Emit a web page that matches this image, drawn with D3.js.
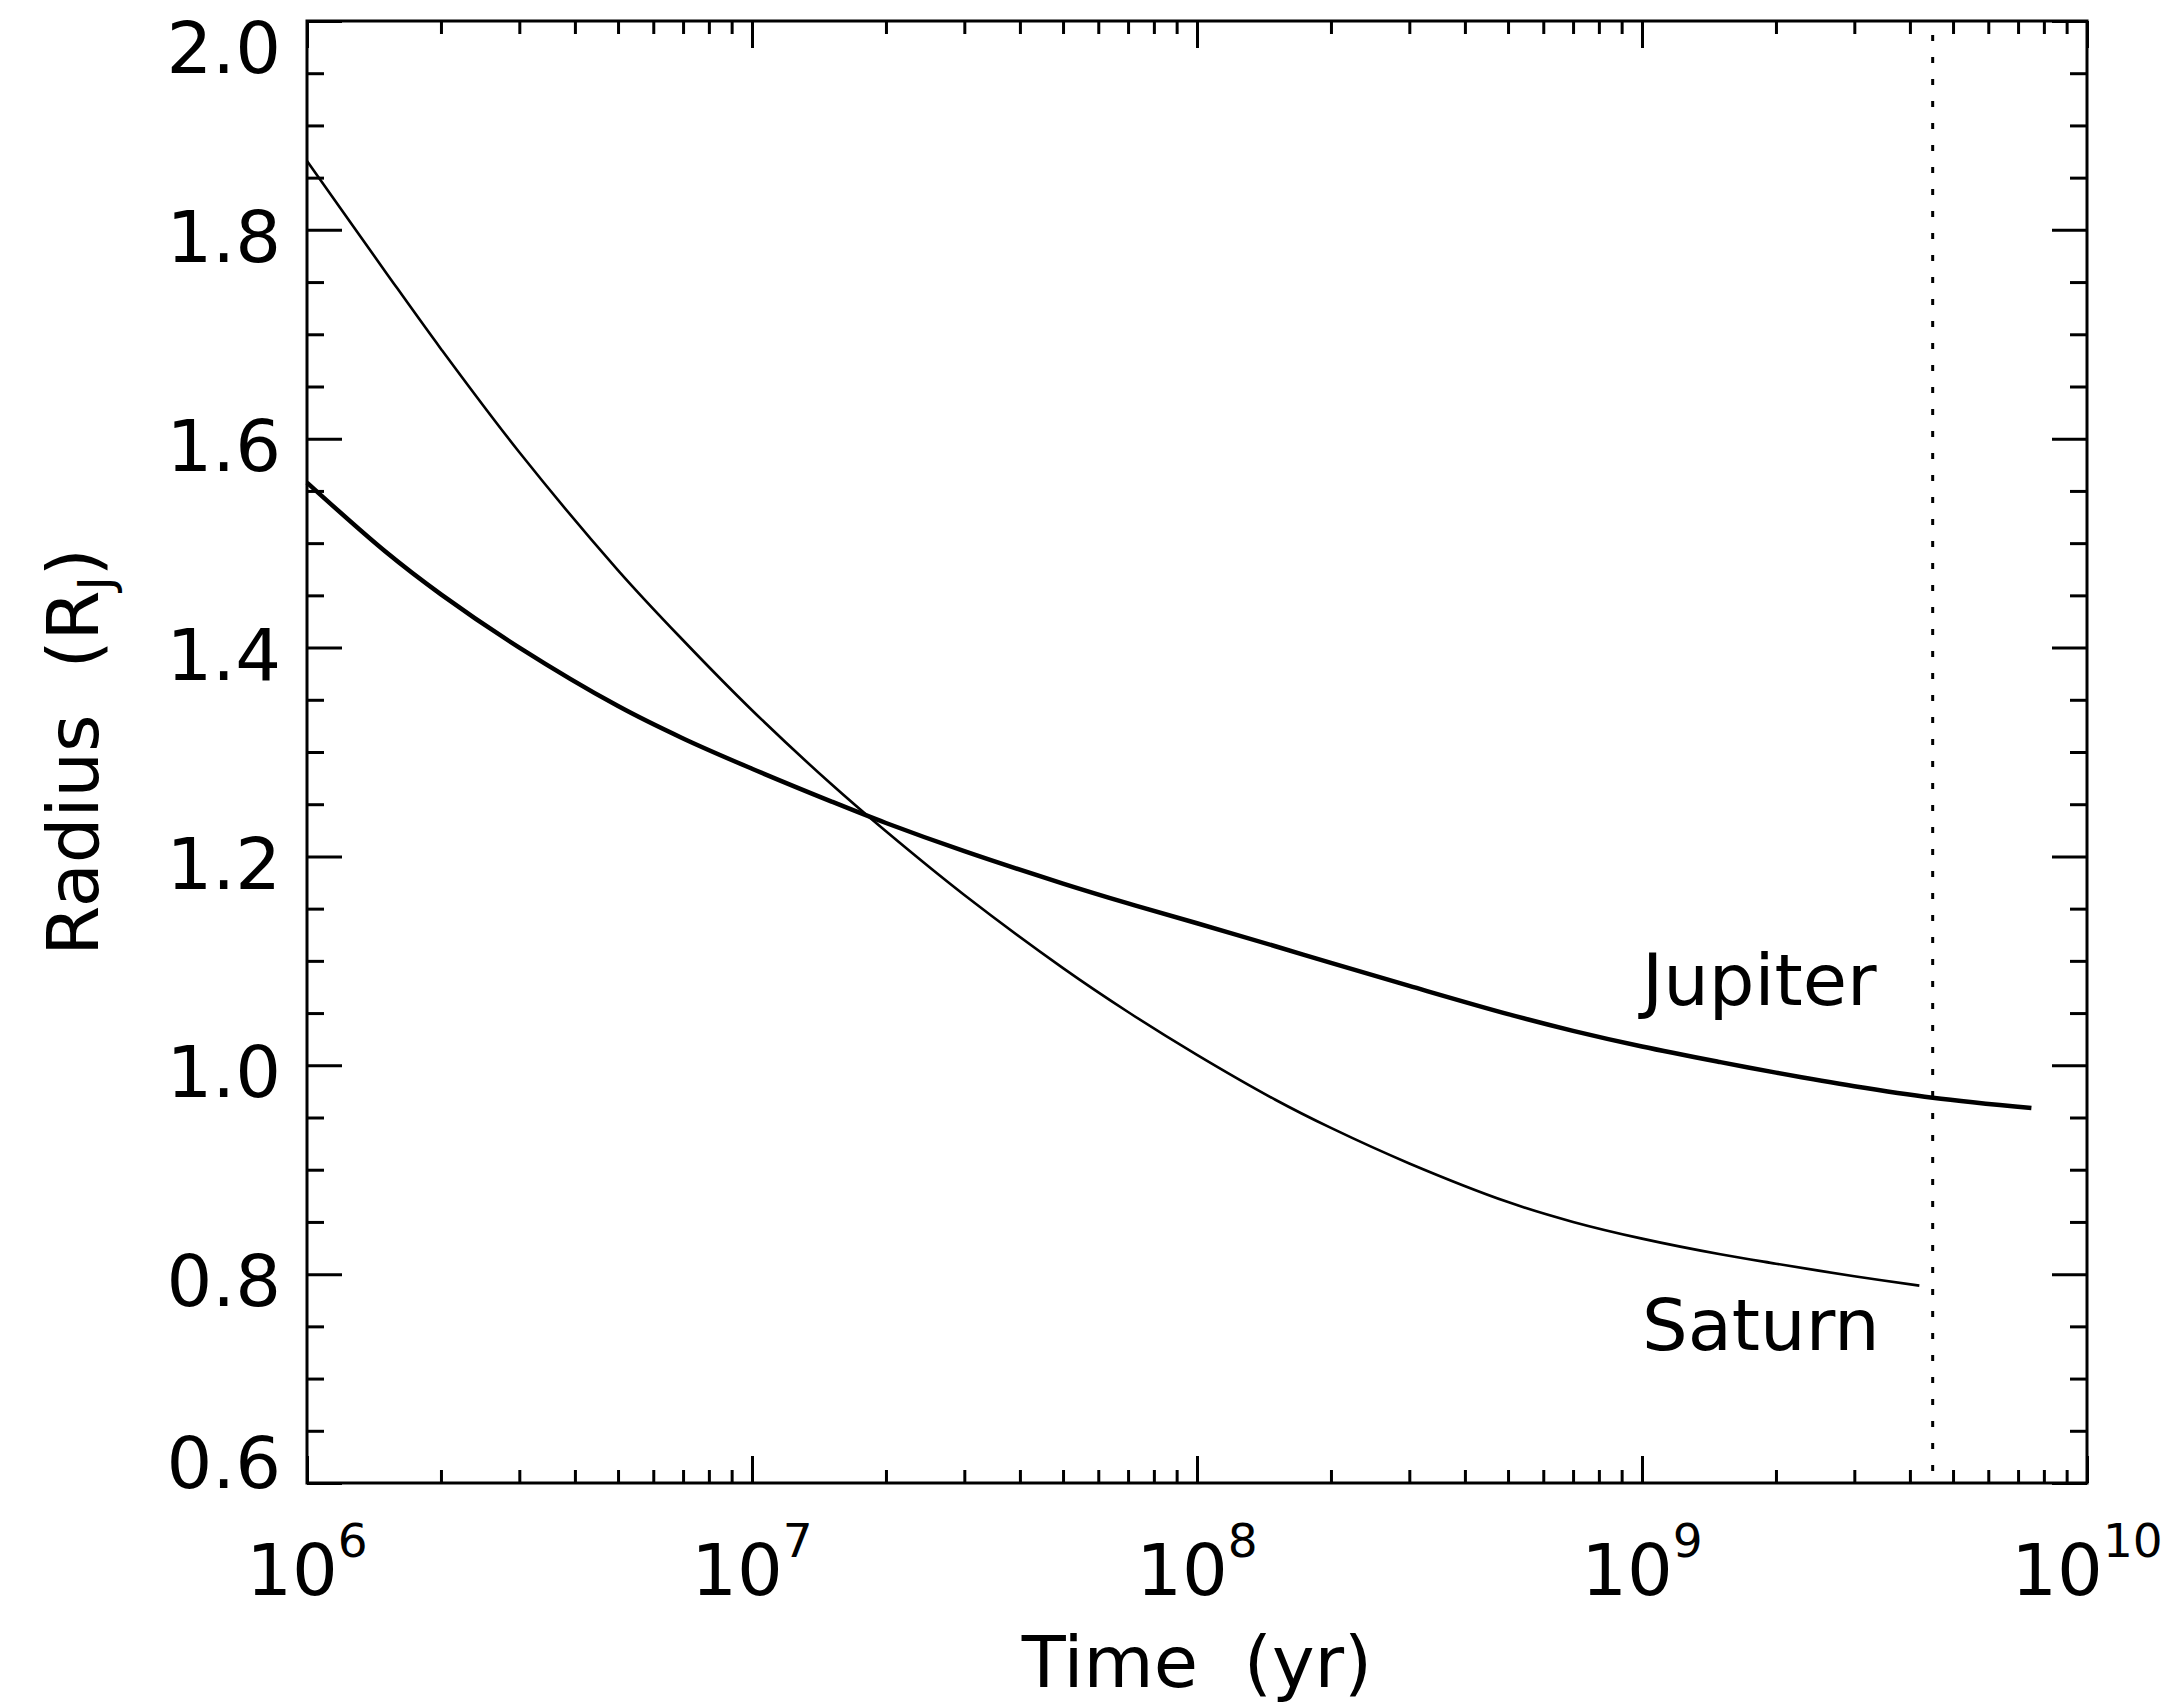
<!DOCTYPE html>
<html lang="en">
<head>
<meta charset="UTF-8">
<title>Radius vs Time</title>
<script src="https://d3js.org/d3.v7.min.js"></script>
<style>
body{margin:0;background:#fff;}
text{font-family:"DejaVu Sans",sans-serif;fill:#000;}
</style>
</head>
<body>
<svg id="chart" width="2172" height="1708"></svg>
<script>
// data (time in yr, radius in R_J)
var jupiterTime = [1e6,1.5e6,2e6,3e6,5e6,7e6,1e7,1.5e7,2e7,3e7,5e7,7e7,1e8,1.5e8,2e8,3e8,5e8,7e8,1e9,1.5e9,2e9,3e9,4.5e9,7.5e9];
var jupiterRadius = [1.558,1.492,1.451,1.400,1.344,1.313,1.284,1.253,1.232,1.205,1.174,1.155,1.136,1.114,1.098,1.076,1.049,1.033,1.018,1.003,0.993,0.980,0.969,0.959];

var saturnTime = [1e6,1.5e6,2e6,3e6,5e6,7e6,1e7,1.5e7,2e7,3e7,5e7,7e7,1e8,1.5e8,2e8,3e8,5e8,7e8,1e9,1.5e9,2e9,3e9,4.2e9];
var saturnRadius = [1.866,1.760,1.686,1.587,1.474,1.407,1.340,1.270,1.224,1.163,1.093,1.051,1.010,0.967,0.940,0.906,0.869,0.850,0.834,0.819,0.810,0.798,0.789];

var yTicks = [0.6,0.8,1.0,1.2,1.4,1.6,1.8,2.0];
var xDecades = [6,7,8,9,10];
var solarAge = 4.5e9; // dotted line
var labels = [{name:'Jupiter',t:1e9,r:1.058},{name:'Saturn',t:1e9,r:0.727}];

var width = 2172, height = 1708;
var padding = {left:307,right:85,top:21,bottom:225};

var svg = d3.select('#chart');

var x = d3.scaleLog()
    .domain([1e6,1e10])
    .range([padding.left,width-padding.right]);

var y = d3.scaleLinear()
    .domain([0.6,2.0])
    .range([height-padding.bottom,padding.top]);

// minor ticks
var xMajor = xDecades.map(function(e){return Math.pow(10,e);});
var xMinor = [];
for (var e=6;e<10;e++){
    for (var m=2;m<10;m++) xMinor.push(m*Math.pow(10,e));
}
var yMinor = [];
for (var i=0;i<=28;i++){
    if (i%4!==0) yMinor.push(+(0.6+0.05*i).toFixed(2));
}

function addAxis(axis,tr){
    var g = svg.append('g').attr('transform',tr).call(axis);
    g.select('.domain').remove();
    g.selectAll('.tick line').attr('stroke','#000').attr('stroke-width',3);
    return g;
}

var x0 = x.range()[0], x1 = x.range()[1];
var y0 = y.range()[0], y1 = y.range()[1];

// left
var leftAxis = addAxis(d3.axisLeft(y).tickValues(yTicks).tickSize(-35).tickPadding(26)
    .tickFormat(d3.format('.1f')),'translate('+x0+',0)');
leftAxis.selectAll('text')
    .attr('font-size',72)
    .attr('font-family','"DejaVu Sans",sans-serif')
    .attr('fill','#000')
    .attr('dy',function(d){
        if (d===2.0) return '0.72em';
        if (d===0.6) return '0.06em';
        return '0.44em';
    });
addAxis(d3.axisLeft(y).tickValues(yMinor).tickSize(-17).tickFormat(''),'translate('+x0+',0)');
// right
addAxis(d3.axisRight(y).tickValues(yTicks).tickSize(-35).tickFormat(''),'translate('+x1+',0)');
addAxis(d3.axisRight(y).tickValues(yMinor).tickSize(-17).tickFormat(''),'translate('+x1+',0)');
// bottom
addAxis(d3.axisBottom(x).tickValues(xMajor).tickSize(-27).tickFormat(''),'translate(0,'+y0+')');
addAxis(d3.axisBottom(x).tickValues(xMinor).tickSize(-13).tickFormat(''),'translate(0,'+y0+')');
// top
addAxis(d3.axisTop(x).tickValues(xMajor).tickSize(-27).tickFormat(''),'translate(0,'+y1+')');
addAxis(d3.axisTop(x).tickValues(xMinor).tickSize(-13).tickFormat(''),'translate(0,'+y1+')');

// frame
svg.append('rect')
    .attr('x',x0).attr('y',y1)
    .attr('width',x1-x0).attr('height',y0-y1)
    .attr('fill','none')
    .attr('stroke','#000')
    .attr('stroke-width',3);

// x tick labels 10^n
var xlab = svg.selectAll('.xlab')
    .data(xDecades)
    .enter()
    .append('text')
    .attr('class','xlab')
    .attr('x',function(d){return x(Math.pow(10,d));})
    .attr('y',y0+112)
    .attr('text-anchor','middle')
    .attr('font-size',72);
xlab.append('tspan').text('10');
xlab.append('tspan').attr('font-size',47).attr('dy',-38).text(function(d){return d;});

// axis titles
svg.append('text')
    .attr('x',(x0+x1)/2)
    .attr('y',y0+204)
    .attr('text-anchor','middle')
    .attr('font-size',72)
    .style('white-space','pre')
    .text('Time  (yr)');

var ytitle = svg.append('text')
    .attr('transform','translate(98,'+((y0+y1)/2)+') rotate(-90)')
    .attr('text-anchor','middle')
    .attr('font-size',72)
    .style('white-space','pre');
ytitle.append('tspan').text('Radius  (R');
ytitle.append('tspan').attr('font-size',48).attr('dy',14).text('J');
ytitle.append('tspan').attr('dy',-14).text(')');

// dotted line at the present age
svg.append('line')
    .attr('x1',x(solarAge)).attr('x2',x(solarAge))
    .attr('y1',y1+14).attr('y2',y0)
    .attr('stroke','#000')
    .attr('stroke-width',3)
    .attr('stroke-dasharray','6,16');

// curves
var line = d3.line()
    .x(function(d){return x(d[0]);})
    .y(function(d){return y(d[1]);})
    .curve(d3.curveCatmullRom.alpha(0.5));

svg.append('path')
    .datum(d3.zip(jupiterTime,jupiterRadius))
    .attr('d',line)
    .attr('fill','none')
    .attr('stroke','#000')
    .attr('stroke-width',4.5);

svg.append('path')
    .datum(d3.zip(saturnTime,saturnRadius))
    .attr('d',line)
    .attr('fill','none')
    .attr('stroke','#000')
    .attr('stroke-width',2.6);

// curve labels
svg.selectAll('.clab')
    .data(labels)
    .enter()
    .append('text')
    .attr('class','clab')
    .attr('x',function(d){return x(d.t);})
    .attr('y',function(d){return y(d.r);})
    .attr('font-size',72)
    .text(function(d){return d.name;});
</script>
</body>
</html>
